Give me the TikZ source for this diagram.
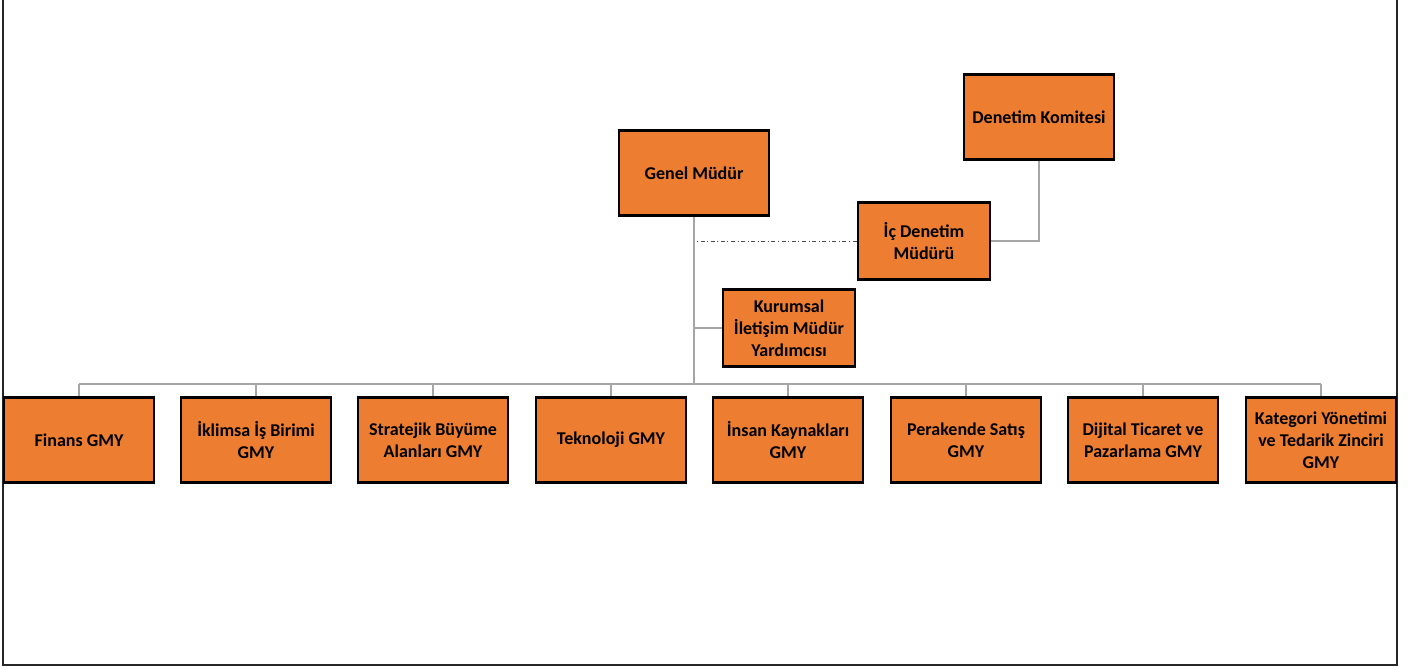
\documentclass[tikz,border=0pt]{standalone}
\usepackage{fontspec}
\setmainfont{Carlito}
\usepackage{tikz}
\definecolor{boxorange}{HTML}{ED7D31}
\definecolor{linegray}{HTML}{A6A6A6}
\tikzset{
  box/.style={draw=black, line width=2.2pt, fill=boxorange, align=center,
    minimum width=112.5pt, minimum height=63.75pt, inner sep=0pt,
    font=\fontsize{13.5}{16.5}\selectfont\bfseries},
  sbox/.style={box, minimum width=99pt, minimum height=58pt},
  link/.style={draw=linegray, line width=1.5pt},
}
\begin{document}
\begin{tikzpicture}[x=0.75pt, y=-0.75pt]
  \useasboundingbox (0,0) rectangle (1411,670);
  % frame
  \draw[line width=1.5pt, black!85] (3,0) -- (3,665) -- (1397,665) -- (1397,0);

  % top of the chart
  \node[box] (gm) at (694,173) {Genel Müdür};
  \node[box] (dk) at (1039,117) {Denetim Komitesi};
  \node[sbox] (icd) at (924,241) {İç Denetim\\Müdürü};
  \node[sbox] (kim) at (789,328) {Kurumsal\\İletişim Müdür\\Yardımcısı};

  % bottom row
  \foreach \i/\x/\t in {1/79/{Finans GMY}, 2/256/{İklimsa İş Birimi\\GMY},
      3/433/{Stratejik Büyüme\\Alanları GMY}, 4/611/{Teknoloji GMY},
      5/788/{İnsan Kaynakları\\GMY}, 6/966/{Perakende Satış\\GMY},
      7/1143/{Dijital Ticaret ve\\Pazarlama GMY}, 8/1321/{Kategori Yönetimi\\ve Tedarik Zinciri\\GMY}} {
    \node[box] (g\i) at (\x,440) {\t};
  }

  \coordinate (bus) at (694,384);
  \coordinate (dotend) at (697,241);

  % connectors
  \draw[link] (gm.south) -- (bus);
  \draw[link] (g1.north |- bus) -- (g8.north |- bus);
  \foreach \i in {1,...,8} {
    \draw[link] (g\i.north) -- (g\i.north |- bus);
  }
  \draw[link] (kim.west) -- (kim.west -| gm.south);
  \draw[link] (icd.east) -| (dk.south);
  \draw[black!70, line width=0.6pt, dash dot] (icd.west) -- (dotend);
\end{tikzpicture}
\end{document}
